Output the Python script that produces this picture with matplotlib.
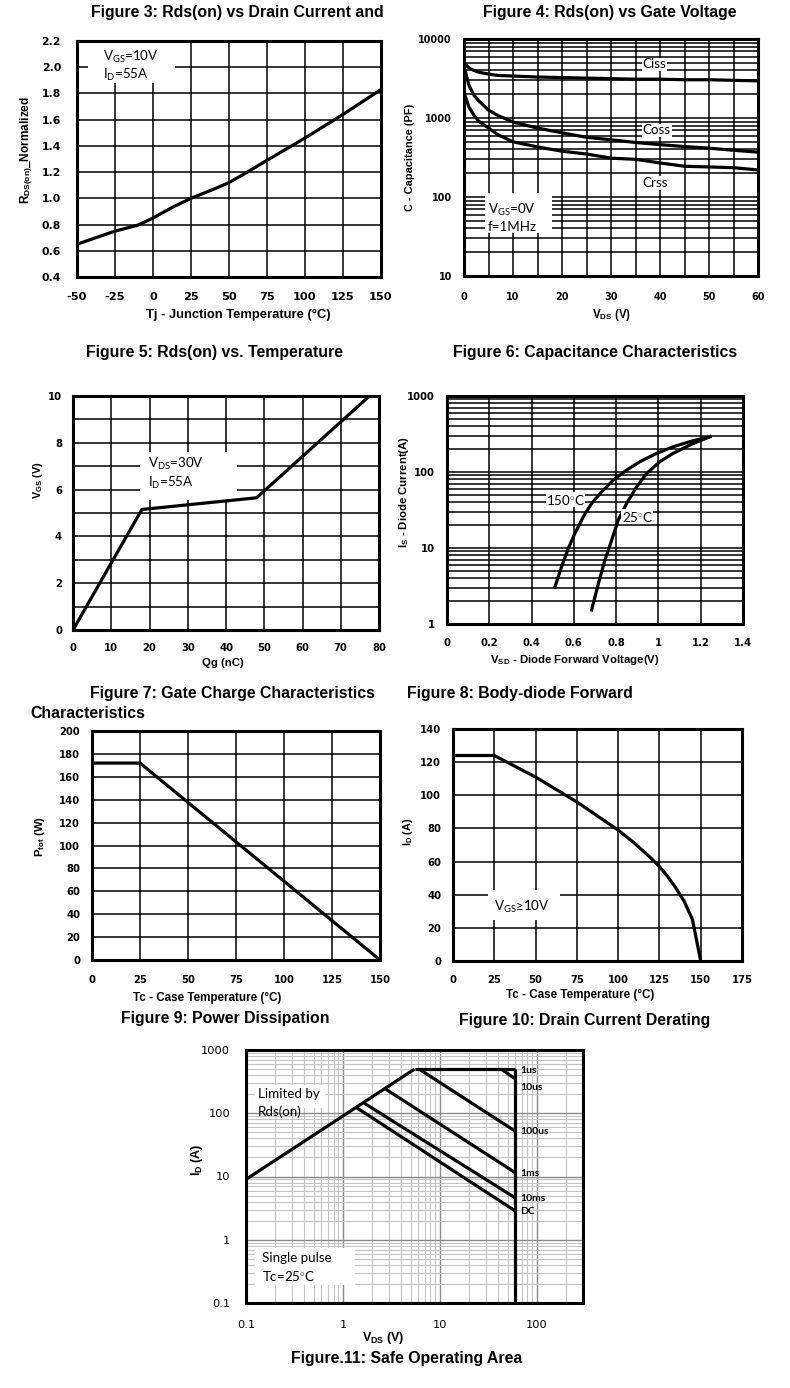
import matplotlib
matplotlib.use('Agg')
import matplotlib.pyplot as plt
from matplotlib.ticker import MultipleLocator, NullFormatter, LogLocator
from matplotlib.patches import Rectangle

plt.rcParams['font.family'] = ['Liberation Sans', 'DejaVu Sans']
plt.rcParams['mathtext.fontset'] = 'custom'
plt.rcParams['mathtext.rm'] = 'Lato'
plt.rcParams['mathtext.it'] = 'Lato:italic'
plt.rcParams['mathtext.bf'] = 'Liberation Sans:bold'

# ---------------- data ----------------
# Fig 3: normalized Rds(on) vs junction temperature
fig3_tj = [-50, -25, -10, 0, 12.5, 25, 40, 50, 62, 75, 100, 125, 150]
fig3_rds = [0.65, 0.75, 0.795, 0.85, 0.93, 1.00, 1.07, 1.12, 1.20, 1.29, 1.46, 1.64, 1.83]

# Fig 4: capacitances vs VDS
fig4_vds = [0, 1, 2, 3, 5, 7, 10, 15, 20, 25, 30, 35, 40, 45, 50, 55, 60]
fig4_ciss = [5000, 4300, 4000, 3800, 3600, 3450, 3400, 3300, 3250, 3200, 3150, 3100, 3100, 3050, 3050, 3000, 2950]
fig4_coss = [4500, 2600, 1960, 1650, 1260, 1070, 890, 745, 650, 570, 530, 490, 460, 435, 415, 390, 370]
fig4_crss = [2100, 1380, 1090, 910, 745, 610, 500, 430, 380, 350, 310, 300, 270, 245, 240, 235, 220]

# Fig 5: gate charge
fig5_qg = [0, 18, 48, 77.5]
fig5_vgs = [0, 5.15, 5.65, 10]

# Fig 6: body diode forward
fig6_v150 = [0.511, 0.542, 0.574, 0.605, 0.645, 0.684, 0.732, 0.787, 0.850, 0.913, 0.992, 1.070, 1.149, 1.244]
fig6_i150 = [3.1, 5.7, 9.9, 15.6, 25.8, 38.7, 55, 78.5, 106, 137, 176, 215, 251, 292]
fig6_v25 = [0.684, 0.716, 0.747, 0.779, 0.810, 0.850, 0.897, 0.945, 1.007, 1.070, 1.149, 1.244]
fig6_i25 = [1.53, 3.4, 6.95, 12.7, 23.4, 38.7, 64, 96, 137, 176, 227, 292]

# Fig 9: power dissipation
fig9_tc = [0, 25, 150]
fig9_ptot = [172, 172, 0]

# Fig 10: drain current derating
fig10_tc = [0, 25, 50, 75, 100, 110, 120, 125, 130, 135, 140, 145, 150]
fig10_id = [124, 124, 111, 96, 79, 71, 62, 57, 51, 44, 36, 25, 0]

# Fig 11: safe operating area
soa_rds_v = [0.1, 5.5]
soa_rds_i = [9, 500]
soa_top_v = [5.5, 60]
soa_top_i = [500, 500]
soa_1us_v = [43, 60]
soa_1us_i = [500, 350]
soa_100us_v = [6.1, 60]
soa_100us_i = [500, 52]
soa_1ms_v = [2.77, 60]
soa_1ms_i = [240, 11.5]
soa_10ms_v = [1.65, 60]
soa_10ms_i = [145, 4.6]
soa_dc_v = [1.39, 60]
soa_dc_i = [122, 2.85]
soa_vmax_v = [60, 60]
soa_vmax_i = [500, 0.1]
soa_labels = ['1us', '10us', '100us', '1ms', '10ms', 'DC']
soa_label_i = [470, 255, 52, 11.1, 4.5, 2.84]

# ---------------- layout ----------------
W, H = 790, 1388
fig = plt.figure(figsize=(W / 100, H / 100), dpi=100)
fig.patch.set_facecolor('white')

TICKFONT = ['DejaVu Sans']


def add_ax(l, t, r, b):
    return fig.add_axes([l / W, 1 - b / H, (r - l) / W, (b - t) / H])


def style(ax, xpad, ypad):
    for s in ax.spines.values():
        s.set_linewidth(2.2)
        s.set_color('black')
        s.set_zorder(5)
    ax.tick_params(which='both', length=0)
    ax.tick_params(axis='x', pad=xpad)
    ax.tick_params(axis='y', pad=ypad)
    ax.set_axisbelow(True)


def ticks(ax, xt, xl, yt, yl, fs=7.2, weight='bold', xfs=None):
    ax.set_xticks(xt, xl, fontsize=xfs or fs, fontweight=weight, family=TICKFONT)
    ax.set_yticks(yt, yl, fontsize=fs, fontweight=weight, family=TICKFONT)


def xlab(ax, text, cx, cy, fs=8.3):
    ax.set_xlabel(text, fontweight='bold', fontsize=fs)
    ax.xaxis.set_label_coords(cx / W, 1 - cy / H, transform=fig.transFigure)
    ax.xaxis.label.set_va('center')


def ylab(ax, text, cx, cy, fs=8.2):
    ax.set_ylabel(text, fontweight='bold', fontsize=fs)
    ax.yaxis.set_label_coords(cx / W, 1 - cy / H, transform=fig.transFigure)
    ax.yaxis.label.set_va('center')
    ax.yaxis.label.set_ha('center')


def white_box(ax, l, t, r, b):
    ax.add_patch(Rectangle((l / W, 1 - b / H), (r - l) / W, (b - t) / H,
                           transform=fig.transFigure, fc='white', ec='none',
                           zorder=1))


def title(text, x, y, ha='center', fs=11.4):
    fig.text(x / W, 1 - y / H, text, ha=ha, va='center', fontsize=fs,
             fontweight='bold')


GRID = dict(color='black', linewidth=1.1)
LINE = dict(color='black', linewidth=2.3, zorder=3, solid_joinstyle='round')
ANN = dict(family=['Lato', 'DejaVu Sans'], fontsize=9.6, zorder=4)

# ---- Figure 3 panel ----
ax = add_ax(77, 41, 381, 277)
ax.plot(fig3_tj, fig3_rds, **LINE)
ax.set_xlim(-50, 150)
ax.set_ylim(0.4, 2.2)
xt = list(range(-50, 151, 25))
yt = [0.4 + 0.2 * i for i in range(10)]
ticks(ax, xt, [str(v) for v in xt], yt, ['%.1f' % v for v in yt], fs=7.8, xfs=8.2)
ax.grid(True, **GRID)
style(ax, 11, 11.5)
xlab(ax, 'Tj - Junction Temperature (°C)', 238, 315, fs=9.4)
ylab(ax, r'R$_{\mathbf{DS(on)}}$_Normalized', 27, 150, fs=8.6)
white_box(ax, 88, 42, 175, 83)
ax.text(103 / W, 1 - 57 / H, r'V$_{\mathrm{GS}}$=10V', transform=fig.transFigure, va='center', **ANN)
ax.text(103 / W, 1 - 75 / H, r'I$_{\mathrm{D}}$=55A', transform=fig.transFigure, va='center', **ANN)

# ---- Figure 4 panel ----
ax = add_ax(464, 39, 758, 276)
ax.plot(fig4_vds, fig4_ciss, **LINE)
ax.plot(fig4_vds, fig4_coss, **LINE)
ax.plot(fig4_vds, fig4_crss, **LINE)
ax.set_yscale('log')
ax.set_xlim(0, 60)
ax.set_ylim(10, 10000)
ticks(ax, list(range(0, 61, 10)), [str(v) for v in range(0, 61, 10)],
      [10, 100, 1000, 10000], ['10', '100', '1000', '10000'], fs=6.9)
ax.xaxis.set_minor_locator(MultipleLocator(5))
ax.yaxis.set_minor_locator(LogLocator(base=10, subs=range(2, 10)))
ax.yaxis.set_minor_formatter(NullFormatter())
ax.grid(True, which='both', **GRID)
style(ax, 11.5, 8.6)
xlab(ax, r'V$_{\mathbf{DS}}$ (V)', 612, 315)
ylab(ax, 'C - Capacitance (PF)', 410, 157, fs=7.9)
white_box(ax, 485, 193, 552, 233)
ax.text(488 / W, 1 - 210 / H, r'V$_{\mathrm{GS}}$=0V', transform=fig.transFigure, va='center', **ANN)
ax.text(488 / W, 1 - 227 / H, 'f=1MHz', transform=fig.transFigure, va='center', **ANN)
for name, yv in [('Ciss', 4800), ('Coss', 700), ('Crss', 150)]:
    ax.text(36.5, yv, name, ha='left', va='center',
            bbox=dict(fc='white', ec='none', pad=0.5), **ANN)

# ---- Figure 5 panel ----
ax = add_ax(73, 396, 379, 630)
ax.plot(fig5_qg, fig5_vgs, **LINE)
ax.set_xlim(0, 80)
ax.set_ylim(0, 10)
ticks(ax, list(range(0, 81, 10)), [str(v) for v in range(0, 81, 10)],
      list(range(0, 11, 2)), [str(v) for v in range(0, 11, 2)])
ax.yaxis.set_minor_locator(MultipleLocator(1))
ax.grid(True, which='both', **GRID)
style(ax, 9.4, 8)
xlab(ax, 'Qg (nC)', 223, 663, fs=8.2)
ylab(ax, r'V$_{\mathbf{GS}}$ (V)', 38, 480, fs=7.8)
white_box(ax, 140, 452, 237, 500)
ax.text(148 / W, 1 - 464 / H, r'V$_{\mathrm{DS}}$=30V', transform=fig.transFigure, va='center', **ANN)
ax.text(148 / W, 1 - 483 / H, r'I$_{\mathrm{D}}$=55A', transform=fig.transFigure, va='center', **ANN)

# ---- Figure 6 panel ----
ax = add_ax(447, 396, 743, 624)
ax.plot(fig6_v150, fig6_i150, **LINE)
ax.plot(fig6_v25, fig6_i25, **LINE)
ax.set_yscale('log')
ax.set_xlim(0, 1.4)
ax.set_ylim(1, 1000)
xt = [0, 0.2, 0.4, 0.6, 0.8, 1.0, 1.2, 1.4]
ticks(ax, xt, ['0', '0.2', '0.4', '0.6', '0.8', '1', '1.2', '1.4'],
      [1, 10, 100, 1000], ['1', '10', '100', '1000'])
ax.yaxis.set_minor_locator(LogLocator(base=10, subs=range(2, 10)))
ax.yaxis.set_minor_formatter(NullFormatter())
ax.grid(True, which='both', **GRID)
style(ax, 10, 8.6)
xlab(ax, r'V$_{\mathbf{SD}}$ - Diode Forward Voltage(V)', 575, 660, fs=8.2)
ylab(ax, r'I$_{\mathbf{S}}$ - Diode Current(A)', 404, 492, fs=8.2)
ax.text(0.468, 43, r'150$^{\circ}$C', ha='left', va='center',
        bbox=dict(fc='white', ec='none', pad=0.3), **ANN)
ax.text(0.826, 25.8, r'25$^{\circ}$C', ha='left', va='center',
        bbox=dict(fc='white', ec='none', pad=0.3), **ANN)

# ---- Figure 9 panel ----
ax = add_ax(92, 731, 380, 960)
ax.plot(fig9_tc, fig9_ptot, **LINE)
ax.set_xlim(0, 150)
ax.set_ylim(0, 200)
ticks(ax, list(range(0, 151, 25)), [str(v) for v in range(0, 151, 25)],
      list(range(0, 201, 20)), [str(v) for v in range(0, 201, 20)])
ax.grid(True, **GRID)
style(ax, 10.8, 8.6)
xlab(ax, 'Tc - Case Temperature (°C)', 207, 998, fs=8.4)
ylab(ax, r'P$_{\mathbf{tot}}$ (W)', 40, 837, fs=8.2)

# ---- Figure 10 panel ----
ax = add_ax(453, 729, 742, 961)
ax.plot(fig10_tc, fig10_id, **LINE)
ax.set_xlim(0, 175)
ax.set_ylim(0, 140)
ticks(ax, list(range(0, 176, 25)), [str(v) for v in range(0, 176, 25)],
      list(range(0, 141, 20)), [str(v) for v in range(0, 141, 20)])
ax.grid(True, **GRID)
style(ax, 10, 8.6)
xlab(ax, 'Tc - Case Temperature (°C)', 580, 995, fs=8.4)
ylab(ax, r'I$_{\mathbf{D}}$ (A)', 408, 832, fs=7.8)
white_box(ax, 488, 890, 560, 920)
ax.text(494 / W, 1 - 907 / H, r'V$_{\mathrm{GS}}$≥10V', transform=fig.transFigure, va='center', **ANN)

# ---- Figure 11 panel ----
ax = add_ax(246, 1050, 583, 1303)
for v, i in [(soa_rds_v, soa_rds_i), (soa_top_v, soa_top_i), (soa_1us_v, soa_1us_i),
             (soa_100us_v, soa_100us_i), (soa_1ms_v, soa_1ms_i),
             (soa_10ms_v, soa_10ms_i), (soa_dc_v, soa_dc_i), (soa_vmax_v, soa_vmax_i)]:
    ax.plot(v, i, color='black', linewidth=2.3, zorder=3, solid_capstyle='butt')
ax.set_xscale('log')
ax.set_yscale('log')
ax.set_xlim(0.1, 300)
ax.set_ylim(0.1, 1000)
ticks(ax, [0.1, 1, 10, 100], ['0.1', '1', '10', '100'],
      [0.1, 1, 10, 100, 1000], ['0.1', '1', '10', '100', '1000'],
      fs=8.2, weight='normal')
for a in (ax.xaxis, ax.yaxis):
    a.set_minor_locator(LogLocator(base=10, subs=range(2, 10)))
    a.set_minor_formatter(NullFormatter())
ax.grid(True, which='minor', color='#c4c4c4', linewidth=0.8)
ax.grid(True, which='major', color='#8a8a8a', linewidth=1.0)
style(ax, 12.5, 11.5)
xlab(ax, r'V$_{\mathbf{DS}}$ (V)', 383, 1338, fs=9)
ylab(ax, r'I$_{\mathbf{D}}$ (A)', 197, 1160, fs=9)
for lab, yv in zip(soa_labels, soa_label_i):
    ax.text(68, yv, lab, ha='left', va='center', fontsize=7.5, fontweight='bold',
            family=['Lato', 'DejaVu Sans'], zorder=4)
white_box(ax, 255, 1085, 325, 1108)
ax.text(258 / W, 1 - 1094 / H, 'Limited by', transform=fig.transFigure, va='center', **ANN)
ax.text(258 / W, 1 - 1112 / H, 'Rds(on)', transform=fig.transFigure, va='center', **ANN)
white_box(ax, 255, 1248, 355, 1285)
ax.text(262 / W, 1 - 1258 / H, 'Single pulse', transform=fig.transFigure, va='center', **ANN)
ax.text(262 / W, 1 - 1276 / H, r'Tc=25$^{\circ}$C', transform=fig.transFigure, va='center', **ANN)

# ---- titles ----
title('Figure 3: Rds(on) vs Drain Current and', 237, 13)
title('Figure 4: Rds(on) vs Gate Voltage', 610, 13)
title('Figure 5: Rds(on) vs. Temperature', 215, 353)
title('Figure 6: Capacitance Characteristics', 595, 353)
title('Figure 7: Gate Charge Characteristics', 232, 693)
title('Characteristics', 30, 713, ha='left')
title('Figure 8: Body-diode Forward', 407, 693, ha='left')
title('Figure 9: Power Dissipation', 225, 1019)
title('Figure 10: Drain Current Derating', 585, 1020)
title('Figure.11: Safe Operating Area', 407, 1358)

fig.savefig('out.png', dpi=100, facecolor='white')
